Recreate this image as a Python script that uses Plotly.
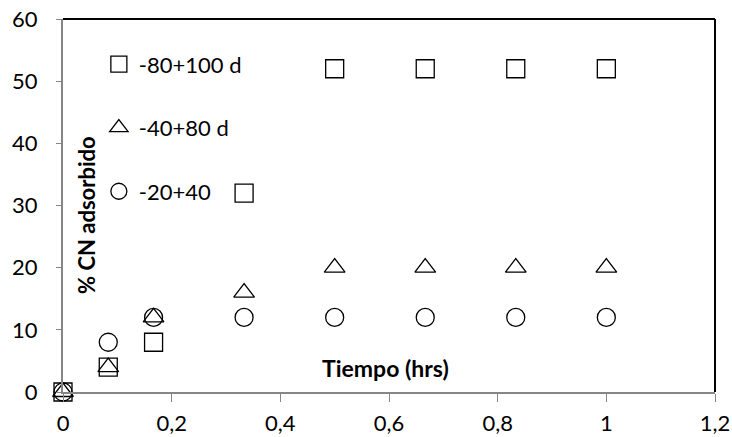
import plotly.graph_objects as go

tiempo = [0, 0.0833, 0.1667, 0.3333, 0.5, 0.6667, 0.8333, 1.0]
serie_80_100 = [0, 4, 8, 32, 52, 52, 52, 52]
serie_40_80 = [0, 4, 12, 16, 20, 20, 20, 20]
serie_20_40 = [0, 8, 12, 12, 12, 12, 12, 12]
nombres = ["-80+100 d", "-40+80 d", "-20+40"]
simbolos = ["square-open", "triangle-up-open", "circle-open"]

FONT = "Lato"
fig = go.Figure()
for i, (ys, nm, sym) in enumerate(zip([serie_80_100, serie_40_80, serie_20_40], nombres, simbolos)):
    fig.add_trace(go.Scatter(
        x=tiempo, y=ys, mode="markers", name=nm, legendgroup=str(i), cliponaxis=False,
        marker=dict(symbol=sym, size=18, color="black", line=dict(width=1.3, color="black")),
    ))

axis_gray = "#868686"
fig.update_layout(
    width=732, height=437,
    margin=dict(l=63, r=17, t=19, b=45, autoexpand=False),
    paper_bgcolor="white", plot_bgcolor="white",
    font=dict(family=FONT, size=22, color="black"),
    showlegend=True,
    legend=dict(x=0.055, y=0.935, xanchor="left", yanchor="top",
                bgcolor="rgba(0,0,0,0)", tracegroupgap=32,
                font=dict(family=FONT, size=22), itemwidth=30),
    xaxis=dict(range=[0, 1.2], tickvals=[0, 0.2, 0.4, 0.6, 0.8, 1.0, 1.2],
               ticktext=["0", "0,2", "0,4", "0,6", "0,8", "1", "1,2"],
               showgrid=False, zeroline=False, showline=True, linecolor=axis_gray, linewidth=2,
               ticks="outside", tickcolor=axis_gray, ticklen=8, tickwidth=1,
               ticklabelstandoff=3,
               tickfont=dict(size=22, family=FONT), automargin=False),
    yaxis=dict(range=[0, 60], tickvals=[0, 10, 20, 30, 40, 50, 60],
               showgrid=False, zeroline=False, showline=True, linecolor=axis_gray, linewidth=2,
               ticks="outside", tickcolor=axis_gray, ticklen=5, tickwidth=1,
               ticklabelstandoff=14,
               tickfont=dict(size=22, family=FONT), automargin=False),
    shapes=[
        dict(type="line", xref="paper", yref="paper", x0=0, x1=1, y0=1, y1=1,
             line=dict(color="black", width=2)),
        dict(type="line", xref="paper", yref="paper", x0=1, x1=1, y0=0, y1=1,
             line=dict(color="black", width=2)),
    ],
    annotations=[
        dict(text="<b>% CN adsorbido</b>", xref="paper", yref="paper", x=0.037, y=0.475,
             xanchor="center", yanchor="middle",
             textangle=-90, showarrow=False, font=dict(size=22, family=FONT)),
        dict(text="<b>Tiempo (hrs)</b>", xref="paper", yref="paper", x=0.494, y=0.064,
             xanchor="center", yanchor="middle",
             showarrow=False, font=dict(size=23, family=FONT)),
    ],
)
fig.write_html("out.html", post_script="document.body.style.margin='0';",
               config={"displayModeBar": False})
